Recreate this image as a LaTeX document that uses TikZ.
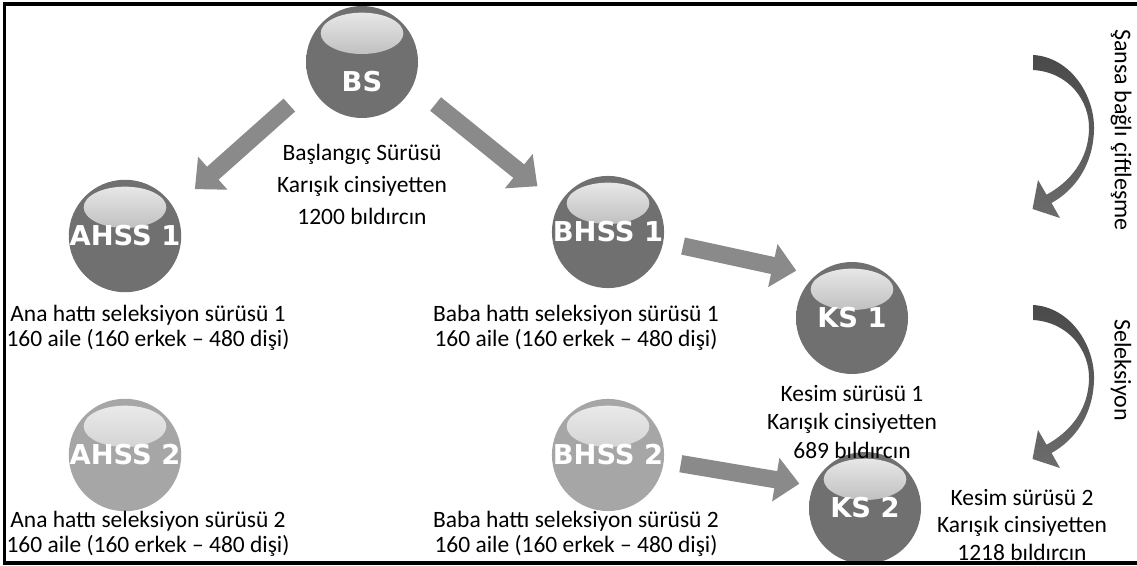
\documentclass[tikz,border=0pt]{standalone}
\usepackage{fontspec}
\setmainfont{Carlito}
\newfontfamily\ballfont{DejaVu Sans}
\usetikzlibrary{arrows.meta}
\definecolor{sphdark}{HTML}{707070}
\definecolor{sphdarkrim}{HTML}{585858}
\definecolor{sphlight}{HTML}{A6A6A6}
\definecolor{sphlightrim}{HTML}{8E8E8E}
\definecolor{arrowgray}{HTML}{8A8A8A}
\definecolor{curvetop}{HTML}{4A4A4A}
\definecolor{curvebot}{HTML}{6C6C6C}
\pgfdeclareradialshading{sphdarkshade}{\pgfpoint{0bp}{0bp}}{color(0bp)=(sphdark); color(34bp)=(sphdark); color(50bp)=(sphdarkrim)}
\pgfdeclareradialshading{sphlightshade}{\pgfpoint{0bp}{0bp}}{color(0bp)=(sphlight); color(34bp)=(sphlight); color(50bp)=(sphlightrim)}
\tikzset{
  ball/.style={circle, inner sep=0pt, minimum size=84pt, shading=#1shade,
    text=white, font=\ballfont\bfseries\fontsize{20.5pt}{22pt}\selectfont,
    path picture={\shade[top color=white!93!black, bottom color=#1!85!white]
      ([yshift=21.5pt]path picture bounding box.center) ellipse [x radius=31pt, y radius=15.5pt];}},
  darkball/.style={ball=sphdark},
  lightball/.style={ball=sphlight},
  txt/.style={align=center, inner sep=0pt, font=\fontsize{17.6pt}{18.5pt}\selectfont},
  blockarrow/.style={draw=arrowgray, line width=13pt, -{Triangle[width=32pt,length=18pt]}},
  curvearrow/.style={top color=curvetop, bottom color=curvebot},
  frameline/.style={line width=2.3pt, black},
  vtxt/.style={rotate=-90, inner sep=0pt, font=\fontsize{18pt}{19pt}\selectfont}
}
\begin{document}
\begin{tikzpicture}[x=0.75pt,y=-0.75pt]
\useasboundingbox (0,0) rectangle (1137,566);
\fill[white] (0,0) rectangle (1137,566);
% spheres
\node[darkball] (bs) at (362,62) {\raisebox{-22pt}[0pt][0pt]{BS}};
\node[darkball] (ahss1) at (125,236) {AHSS 1};
\node[darkball] (bhss1) at (608,232) {BHSS 1};
\node[darkball] (ks1) at (852,318) {KS 1};
\node[lightball] (ahss2) at (125,455) {AHSS 2};
\node[lightball] (bhss2) at (608,455) {BHSS 2};
\node[darkball] (ks2) at (865,508) {KS 2};
% texts
\node[txt] (bstxt) at (362,184) {Başlangıç Sürüsü\\[6pt]Karışık cinsiyetten\\[5pt]1200 bıldırcın};
\node[txt] (a1txt) at (148,328) {Ana hattı seleksiyon sürüsü 1\\160 aile (160 erkek -- 480 dişi)};
\node[txt] (b1txt) at (576,328) {Baba hattı seleksiyon sürüsü 1\\160 aile (160 erkek -- 480 dişi)};
\node[txt] (a2txt) at (148,534) {Ana hattı seleksiyon sürüsü 2\\160 aile (160 erkek -- 480 dişi)};
\node[txt] (b2txt) at (576,534) {Baba hattı seleksiyon sürüsü 2\\160 aile (160 erkek -- 480 dişi)};
\node[txt] (k1txt) at (852,422) {Kesim sürüsü 1\\[3pt]Karışık cinsiyetten\\[3pt]689 bıldırcın};
\node[txt] (k2txt) at (1022,525) {Kesim sürüsü 2\\[2pt]Karışık cinsiyetten\\[2pt]1218 bıldırcın};
\node[vtxt] (sansa) at (1121,130) {Şansa bağlı çiftleşme};
\node[vtxt] (sel) at (1121,370) {Seleksiyon};
% block arrows
\draw[blockarrow, shorten <=21.75pt, shorten >=21pt] (bs.205) -- (ahss1.30);
\draw[blockarrow, shorten <=21.75pt, shorten >=21pt] (bs.335) -- (bhss1.150);
\draw[blockarrow, shorten <=15pt, shorten >=15pt] (bhss1.-10) -- (ks1.130);
\draw[blockarrow, shorten <=12.75pt, shorten >=10.5pt] (bhss2.-6) -- (ks2.157);
% curved arrows
\foreach \dy/\nm in {0/c1,250/c2}{
\begin{scope}[yshift=-\dy*0.75pt]
\path[curvearrow] (1033,55) .. controls (1070,57) and (1095,95) .. (1094,130)
  .. controls (1093,165) and (1075,190) .. (1051.5,203) -- (1060,218) -- (1032.5,209)
  -- (1038,180) -- (1046.5,194.7) .. controls (1070,182) and (1088,160) .. (1089,130)
  .. controls (1090,100) and (1068,72) .. (1033,70) -- cycle;
\end{scope}}
% frame
\draw[frameline] (1137,4) -- (4.5,4) -- (4.5,563) -- (1137,563);
\end{tikzpicture}
\end{document}
